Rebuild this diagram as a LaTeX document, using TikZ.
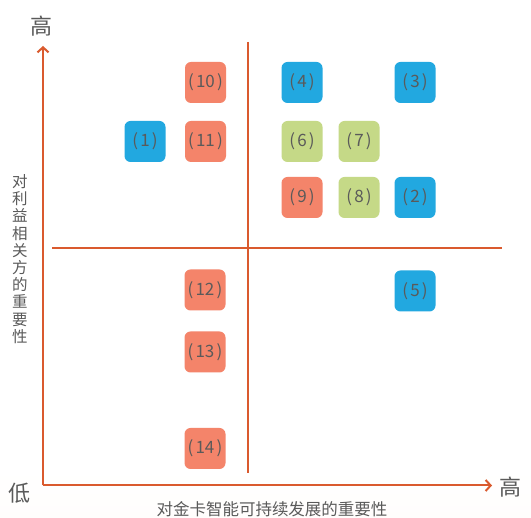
\documentclass[tikz,border=0pt]{standalone}
\usepackage{fontspec}
\setmainfont{Noto Sans CJK SC}
\usetikzlibrary{arrows.meta}
\definecolor{bgtop}{HTML}{FDE1D2}
\definecolor{bgbot}{HTML}{FDF3EE}
\definecolor{axiscol}{HTML}{DA5A2E}
\definecolor{bblue}{HTML}{22A8E0}
\definecolor{borange}{HTML}{F4846A}
\definecolor{bgreen}{HTML}{C5D987}
\definecolor{txtgrey}{HTML}{5A5A5A}
\pgfdeclareverticalshading{bgshade}{100bp}{color(0bp)=(bgbot); color(30bp)=(white); color(75bp)=(white); color(100bp)=(bgtop)}
\newcommand{\gapk}{\kern2.2pt}
\tikzset{
  item/.style={rounded corners=6pt, minimum width=41pt, minimum height=41pt, inner sep=0pt, text=txtgrey, font=\fontsize{17}{20}\selectfont},
  blue/.style={item, fill=bblue},
  orange/.style={item, fill=borange},
  green/.style={item, fill=bgreen},
  axisline/.style={draw=axiscol, line width=2pt},
  lbl/.style={text=txtgrey, inner sep=0pt}
}
\begin{document}
\begin{tikzpicture}[x=1pt,y=-1pt]
\useasboundingbox (0,0) rectangle (531,518);
\shade[shading=bgshade] (0,0) rectangle (531,518);
% axes
\coordinate (origin) at (43,485.5);
\coordinate (ytop) at (43,46);
\coordinate (xright) at (492,485.5);
\draw[axisline, -{Straight Barb[length=5pt,width=11pt,line width=2pt]}] (origin) -- (ytop);
\draw[axisline, -{Straight Barb[length=5pt,width=11pt,line width=2pt]}] (origin) -- (xright);
% dividers
\coordinate (vtop) at (248.3,42);
\coordinate (vbot) at (248.3,473);
\coordinate (hleft) at (52,248.3);
\coordinate (hright) at (502,248.3);
\draw[axisline] (vtop) -- (vbot);
\draw[axisline] (hleft) -- (hright);
% labels
\node[lbl, font=\fontsize{22}{24}\selectfont] (hiY) at (41.5,26) {高};
\node[lbl, font=\fontsize{22}{24}\selectfont] (lo) at (20,493) {低};
\node[lbl, font=\fontsize{22}{24}\selectfont] (hiX) at (510,487) {高};
\node[lbl, font=\fontsize{16.5}{18}\selectfont] (xlab) at (272,509) {对金卡智能可持续发展的重要性};
\node[lbl, font=\fontsize{15.5}{17.2}\selectfont, align=center] (ylab) at (20,259) {对\\利\\益\\相\\关\\方\\的\\重\\要\\性};
% items
\node[orange] (n10) at (205.5,82.5) {(\gapk10\gapk)};
\node[orange] (n11) at (205.5,141.5) {(\gapk11\gapk)};
\node[blue] (n1) at (145,141.5) {(\gapk1\gapk)};
\node[blue] (n4) at (302,82.5) {(\gapk4\gapk)};
\node[blue] (n3) at (415,82.5) {(\gapk3\gapk)};
\node[green] (n6) at (302,141.5) {(\gapk6\gapk)};
\node[green] (n7) at (359,141.5) {(\gapk7\gapk)};
\node[orange] (n9) at (302,197.5) {(\gapk9\gapk)};
\node[green] (n8) at (359,197.5) {(\gapk8\gapk)};
\node[blue] (n2) at (415,197.5) {(\gapk2\gapk)};
\node[blue] (n5) at (415,291) {(\gapk5\gapk)};
\node[orange] (n12) at (205,290) {(\gapk12\gapk)};
\node[orange] (n13) at (205,352) {(\gapk13\gapk)};
\node[orange] (n14) at (205,448.5) {(\gapk14\gapk)};
\end{tikzpicture}
\end{document}
